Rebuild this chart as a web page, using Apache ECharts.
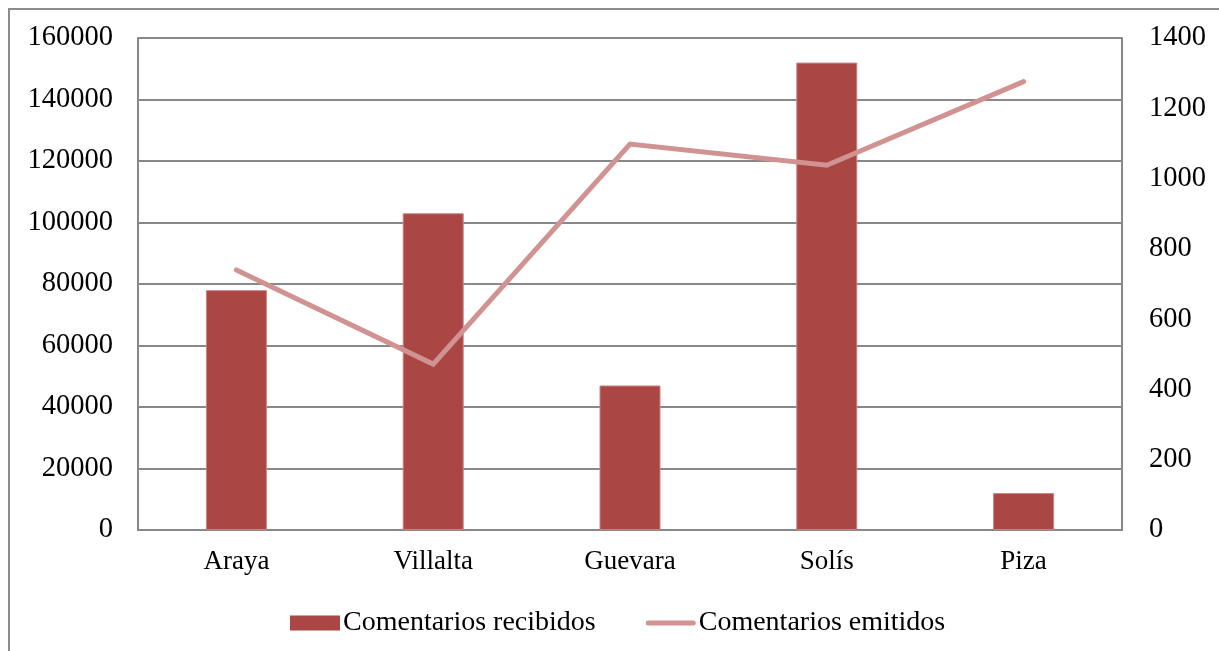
<!DOCTYPE html>
<html><head><meta charset="utf-8">
<script src="https://cdn.jsdelivr.net/npm/echarts@6/dist/echarts.min.js"></script>
<style>html,body{margin:0;padding:0;background:#fff}#c{width:1219px;height:651px}</style>
</head><body><div id="c"></div>
<script>
const categories = ['Araya', 'Villalta', 'Guevara', 'Solís', 'Piza'];
const recibidos = [78000, 103000, 47000, 152000, 12000];
const emitidos = [740, 472, 1098, 1038, 1276];
const leftTicks = { min: 0, max: 160000, interval: 20000 };
const rightTicks = { min: 0, max: 1400, interval: 200 };

const FONT = '"Liberation Serif", serif';
const chart = echarts.init(document.getElementById('c'), null, { renderer: 'canvas' });
chart.setOption({
  animation: false,
  backgroundColor: '#fff',
  graphic: [{
    type: 'rect', z: -1,
    shape: { x: 9, y: 9, width: 1240, height: 680 },
    style: { fill: 'none', stroke: '#8c8c8c', lineWidth: 2 }
  }],
  grid: { left: 138, right: 97, top: 38, bottom: 121, containLabel: false },
  legend: {
    left: 285, top: 604,
    itemWidth: 50, itemHeight: 15, itemGap: 50,
    textStyle: { fontFamily: FONT, fontSize: 28, color: '#000', padding: [0, 0, 0, -2] },
    data: [
      { name: 'Comentarios recibidos', icon: 'rect', itemStyle: { borderWidth: 0 } },
      { name: 'Comentarios emitidos', icon: 'path://M2.5,0 L47.5,0 A2.5,2.5 0 0 1 47.5,5 L2.5,5 A2.5,2.5 0 0 1 2.5,0 Z', itemStyle: { borderWidth: 0 } }
    ]
  },
  xAxis: {
    type: 'category', data: categories,
    axisLine: { lineStyle: { color: '#888', width: 2 } },
    axisTick: { show: false },
    axisLabel: { fontFamily: FONT, fontSize: 27, color: '#000', margin: 18 }
  },
  yAxis: [{
    type: 'value', min: leftTicks.min, max: leftTicks.max, interval: leftTicks.interval,
    position: 'left',
    axisLine: { show: true, lineStyle: { color: '#888', width: 2 } },
    axisTick: { show: false },
    splitLine: { lineStyle: { color: '#888', width: 2 } },
    axisLabel: { fontFamily: FONT, fontSize: 28.5, color: '#000', margin: 25, formatter: v => String(v) }
  }, {
    type: 'value', min: rightTicks.min, max: rightTicks.max, interval: rightTicks.interval,
    position: 'right',
    axisLine: { show: true, lineStyle: { color: '#888', width: 2 } },
    axisTick: { show: false },
    splitLine: { show: false },
    axisLabel: { fontFamily: FONT, fontSize: 28.5, color: '#000', margin: 27, formatter: v => String(v) }
  }],
  series: [{
    name: 'Comentarios recibidos', type: 'bar', yAxisIndex: 0,
    data: recibidos, barWidth: 61,
    itemStyle: { color: '#AA4644', borderColor: '#C98483', borderWidth: 1 }
  }, {
    name: 'Comentarios emitidos', type: 'line', yAxisIndex: 1,
    data: emitidos, symbol: 'none',
    lineStyle: { color: '#D09392', width: 5, cap: 'round', join: 'miter' },
    itemStyle: { color: '#D09392' }
  }]
});
</script></body></html>
